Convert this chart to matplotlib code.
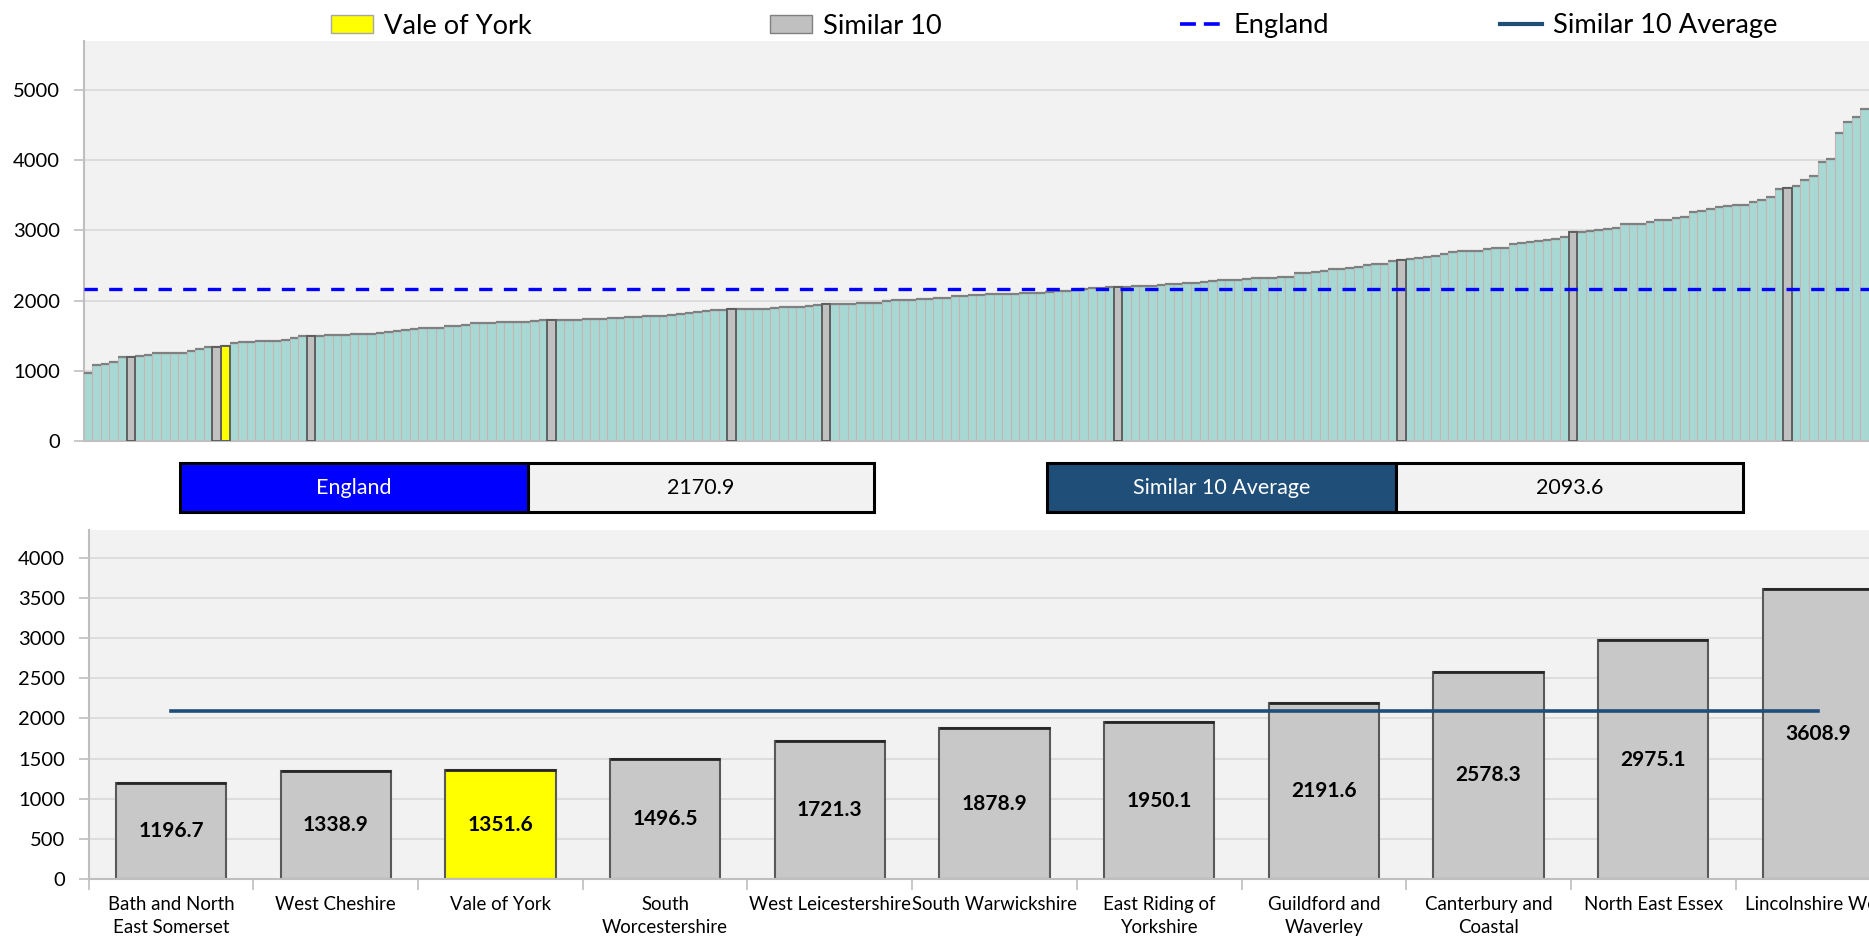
import matplotlib
matplotlib.use("Agg")
import numpy as np
import matplotlib.pyplot as plt
from matplotlib.patches import Patch, Rectangle
from matplotlib.lines import Line2D

plt.rcParams["font.family"] = ["Lato", "DejaVu Sans"]

# every area, sorted low to high (the similar 10 and Vale of York sit inside this list)
all_values = [
    971, 1086, 1100, 1124, 1190, 1196.7, 1205, 1224, 1248, 1252,
    1257, 1260, 1286, 1310, 1333, 1338.9, 1351.6, 1395, 1405, 1414,
    1419, 1420, 1429, 1443, 1467, 1490, 1496.5, 1500, 1505, 1507,
    1510, 1519, 1522, 1529, 1538, 1557, 1562, 1576, 1600, 1605,
    1610, 1614, 1638, 1640, 1648, 1681, 1681, 1686, 1690, 1695,
    1695, 1700, 1710, 1719, 1721.3, 1724, 1724, 1729, 1738, 1738,
    1743, 1748, 1752, 1762, 1767, 1776, 1781, 1786, 1790, 1810,
    1819, 1833, 1857, 1862, 1867, 1878.9, 1881, 1881, 1882, 1886,
    1890, 1905, 1910, 1914, 1924, 1938, 1950.1, 1952, 1957, 1957,
    1971, 1971, 1971, 1995, 2005, 2005, 2005, 2020, 2024, 2033,
    2038, 2062, 2067, 2076, 2076, 2090, 2095, 2095, 2100, 2105,
    2110, 2114, 2129, 2133, 2143, 2148, 2171, 2181, 2186, 2190,
    2191.6, 2200, 2205, 2210, 2214, 2229, 2243, 2243, 2257, 2257,
    2267, 2286, 2295, 2295, 2300, 2314, 2319, 2319, 2319, 2338,
    2338, 2390, 2400, 2405, 2429, 2448, 2452, 2467, 2481, 2514,
    2529, 2529, 2565, 2578.3, 2590, 2610, 2624, 2638, 2662, 2695,
    2705, 2714, 2714, 2743, 2752, 2757, 2814, 2819, 2838, 2852,
    2871, 2881, 2914, 2975.1, 2981, 2995, 3005, 3024, 3033, 3090,
    3090, 3095, 3114, 3143, 3148, 3171, 3186, 3267, 3276, 3300,
    3338, 3348, 3357, 3367, 3405, 3433, 3471, 3586, 3608.9, 3638,
    3714, 3771, 3971, 4024, 4386, 4543, 4614, 4738,
]

similar_names = [
    "Bath and North\nEast Somerset", "West Cheshire", "Vale of York",
    "South\nWorcestershire", "West Leicestershire", "South Warwickshire",
    "East Riding of\nYorkshire", "Guildford and\nWaverley", "Canterbury and\nCoastal",
    "North East Essex", "Lincolnshire West",
]
similar_values = [1196.7, 1338.9, 1351.6, 1496.5, 1721.3, 1878.9,
                  1950.1, 2191.6, 2578.3, 2975.1, 3608.9]
selected_name = "Vale of York"

england_value = 2170.9
similar_average = 2093.6

legend_labels = ["Vale of York", "Similar 10", "England", "Similar 10 Average"]

TEAL = "#a7d8d3"
GREY = "#c0c0c0"
YELLOW = "#ffff00"
BLUE = "#0000ff"
NAVY = "#1f4e79"
BG = "#f2f2f2"
AXIS = "#bfbfbf"

W, H = 1869, 939
fig = plt.figure(figsize=(W / 100, H / 100), dpi=100)


def fx(px):
    return px / W


def fy(py):
    return 1 - py / H


selected_value = similar_values[similar_names.index(selected_name)]

# ---- top chart: all areas ----
ax1 = fig.add_axes([fx(83.7), fy(441), 1 - fx(83.7), (441 - 41) / H])
ax1.set_facecolor(BG)
xs = np.arange(len(all_values))
vals = np.array(all_values)
ax1.bar(xs, vals, width=1.0, color=TEAL, edgecolor="#c4b4b4", linewidth=0.8, zorder=2)
ax1.hlines(vals, xs - 0.5, xs + 0.5, color="#808080", linewidth=1.6, zorder=3)

hl = [i for i, v in enumerate(all_values) if v in similar_values]
hl_colors = [YELLOW if all_values[i] == selected_value else GREY for i in hl]
ax1.bar(xs[hl], vals[hl], width=1.0, color=hl_colors, edgecolor="#5f5f5f",
        linewidth=1.4, zorder=4)

ax1.axhline(england_value, color=BLUE, linewidth=2.4, dashes=(4, 3.4), zorder=5)

ax1.set_xticks([])
ax1.set_yticks(np.arange(0, 5001, 1000))
ax1.set_xlim(-0.5, len(all_values) - 0.5)
ax1.set_ylim(0, 5700)
ax1.yaxis.grid(True, color="#d9d9d9", linewidth=1.2)
ax1.set_axisbelow(True)
for s in ["top", "right"]:
    ax1.spines[s].set_visible(False)
for s in ["left", "bottom"]:
    ax1.spines[s].set_color(AXIS)
    ax1.spines[s].set_linewidth(1.5)
ax1.tick_params(axis="y", labelsize=14.5, length=7, color=AXIS, width=1.2, pad=10)

# ---- legend along the top ----
handles = [
    Patch(facecolor=YELLOW, edgecolor="#a6a6a6", linewidth=1),
    Patch(facecolor=GREY, edgecolor="#808080", linewidth=1),
    Line2D([], [], color=BLUE, linewidth=2.6, dashes=(4.4, 2.2)),
    Line2D([], [], color=NAVY, linewidth=3),
]
legend_x = [331, 770, 1180, 1500]
for h, lab, lx in zip(handles, legend_labels, legend_x):
    fig.legend([h], [lab], loc="center left", bbox_to_anchor=(fx(lx), fy(26)),
               frameon=False, fontsize=19.6, borderpad=0, borderaxespad=0,
               handlelength=1.55, handleheight=0.6, handletextpad=0.4)

# ---- summary boxes ----
def summary_box(x0, xm, x1, label, value, color):
    y0, y1 = 462.7, 512.3
    fig.add_artist(Rectangle((fx(x0), fy(y1)), fx(xm - x0), (y1 - y0) / H,
                             transform=fig.transFigure, facecolor=color,
                             edgecolor="black", linewidth=2.2))
    fig.add_artist(Rectangle((fx(xm), fy(y1)), fx(x1 - xm), (y1 - y0) / H,
                             transform=fig.transFigure, facecolor=BG,
                             edgecolor="black", linewidth=2.2))
    yc = fy((y0 + y1) / 2)
    fig.text(fx((x0 + xm) / 2), yc, label, color="white", fontsize=15.5,
             ha="center", va="center")
    fig.text(fx((xm + x1) / 2), yc, f"{value:.1f}", color="black", fontsize=15.5,
             ha="center", va="center")


summary_box(180, 527.6, 874, "England", england_value, BLUE)
summary_box(1046.9, 1395.8, 1742.9, "Similar 10 Average", similar_average, NAVY)

# ---- bottom chart: the similar 10 ----
ax2 = fig.add_axes([fx(88.7), fy(879), 1 - fx(88.7), (879 - 530) / H])
ax2.set_facecolor(BG)
pos = np.arange(len(similar_values))
bar_colors = [YELLOW if n == selected_name else "#c8c8c8" for n in similar_names]
ax2.bar(pos, similar_values, width=0.67, color=bar_colors, edgecolor="#595959",
        linewidth=1.5, zorder=2)
ax2.hlines(similar_values, pos - 0.335, pos + 0.335, color="#262626", linewidth=2, zorder=3)
ax2.plot([pos[0], pos[-1]], [similar_average, similar_average], color=NAVY,
         linewidth=2.6, zorder=4)
for p, v in zip(pos, similar_values):
    ax2.text(p, v / 2, f"{v:.1f}", ha="center", va="center", fontsize=15,
             fontweight="bold", zorder=5)

ax2.set_yticks(np.arange(0, 4001, 500))
ax2.set_xticks(np.arange(-0.5, len(similar_values), 1))
ax2.set_xticklabels([])
ax2.set_xticks(pos, minor=True)
ax2.set_xticklabels(similar_names, minor=True, fontsize=13.4, linespacing=1.45)
ax2.set_xlim(-0.5, 10.31)
ax2.set_ylim(0, 4345)
ax2.tick_params(axis="x", which="major", length=8, color=AXIS, width=1.2)
ax2.tick_params(axis="x", which="minor", length=0, pad=12)
ax2.tick_params(axis="y", labelsize=14.5, length=7, color=AXIS, width=1.2, pad=10)
ax2.yaxis.grid(True, color="#d9d9d9", linewidth=1.2)
ax2.set_axisbelow(True)
for s in ["top", "right"]:
    ax2.spines[s].set_visible(False)
for s in ["left", "bottom"]:
    ax2.spines[s].set_color(AXIS)
    ax2.spines[s].set_linewidth(1.5)

fig.savefig("out.png", dpi=100)
